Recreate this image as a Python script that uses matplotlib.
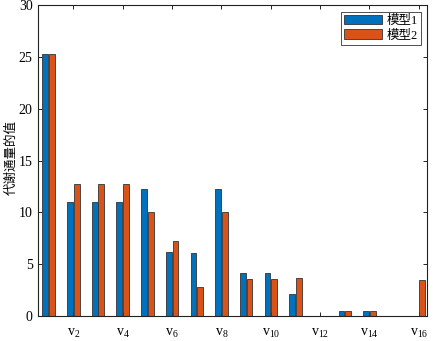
import numpy as np
import matplotlib
matplotlib.use("Agg")
import matplotlib.pyplot as plt

plt.rcParams["font.family"] = ["Liberation Serif", "Noto Sans CJK SC"]
plt.rcParams["mathtext.fontset"] = "custom"
plt.rcParams["mathtext.rm"] = "Liberation Serif"
plt.rcParams["mathtext.it"] = "Liberation Serif"

# Data
groups = np.arange(1, 17)
model1 = [25.3, 11.0, 11.0, 11.0, 12.3, 6.2, 6.1, 12.3, 4.1, 4.1, 2.1, 0.0, 0.45, 0.45, 0.0, 0.0]
model2 = [25.3, 12.7, 12.7, 12.7, 10.0, 7.2, 2.75, 10.0, 3.55, 3.55, 3.65, 0.0, 0.45, 0.45, 0.0, 3.5]
series_names = ["模型1", "模型2"]
tick_pos = [2, 4, 6, 8, 10, 12, 14, 16]
tick_labels = [r"$\mathregular{v_{%d}}$" % i for i in tick_pos]

fig = plt.figure(figsize=(4.33, 3.41), dpi=100)
ax = fig.add_axes([0.088, 0.074, 0.898, 0.910])

width = 0.235
off = 0.135
ax.bar(groups - off, model1, width, color="#0072BD", edgecolor="#333333",
       linewidth=0.6, label=series_names[0], zorder=2)
ax.bar(groups + off, model2, width, color="#D95319", edgecolor="#333333",
       linewidth=0.6, label=series_names[1], zorder=2)

ax.set_xlim(0.57, 16.33)
ax.set_ylim(0, 30)
ax.set_yticks([0, 5, 10, 15, 20, 25, 30])
ax.set_xticks(tick_pos)
ax.set_xticklabels(tick_labels, fontsize=10)
ax.tick_params(axis="both", direction="in", top=True, right=True,
               length=3, width=0.6, labelsize=10, zorder=3)
ax.tick_params(axis="x", pad=8)
ax.tick_params(axis="y", pad=4)
for s in ax.spines.values():
    s.set_linewidth(0.8)
    s.set_color("#222222")

ax.set_ylabel("代谢通量的值", fontsize=9)
ax.yaxis.set_label_coords(-0.054, 0.51)

leg = ax.legend(loc="upper right", fontsize=9, frameon=True, fancybox=False,
                edgecolor="black", handlelength=3.0, handleheight=0.8,
                borderpad=0.25, labelspacing=0.2, handletextpad=0.35,
                borderaxespad=0.5)
leg.get_frame().set_linewidth(0.6)

fig.savefig("out.png", dpi=100)
